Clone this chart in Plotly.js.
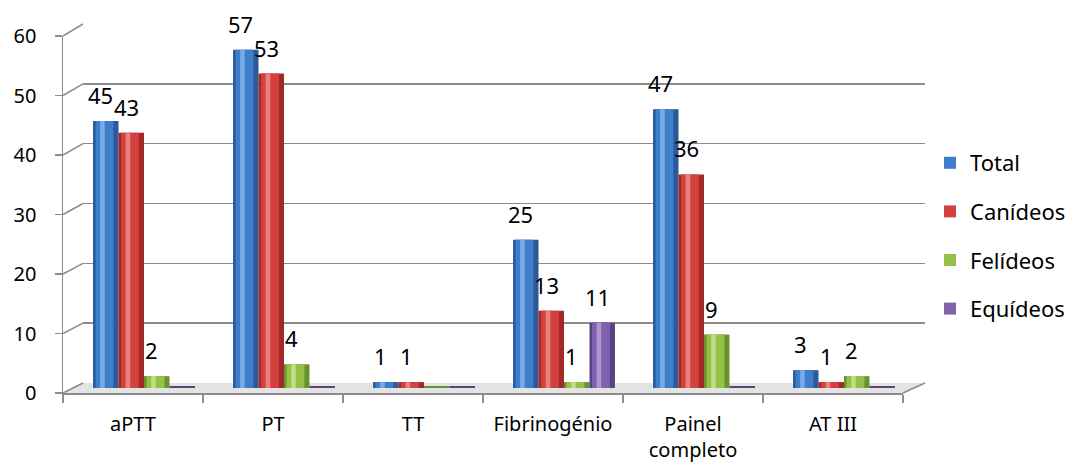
<!DOCTYPE html>
<html><head><meta charset="utf-8">
<script src="https://cdn.plot.ly/plotly-3.0.1.min.js"></script>
<style>html,body{margin:0;padding:0;background:#fff}#chart{width:1073px;height:464px}</style>
</head><body><div id="chart"></div>
<script>
const categories = ['aPTT', 'PT', 'TT', 'Fibrinogénio', 'Painel completo', 'AT III'];
const tickLabels = ['aPTT', 'PT', 'TT', 'Fibrinogénio', 'Painel<br>completo', 'AT III'];
const seriesNames = ['Total', 'Canídeos', 'Felídeos', 'Equídeos'];
const total = [45, 57, 1, 25, 47, 3];
const canideos = [43, 53, 1, 13, 36, 1];
const felideos = [2, 4, 0, 1, 9, 2];
const equideos = [0, 0, 0, 11, 0, 0];
const yTicks = [0, 10, 20, 30, 40, 50, 60];

const seriesValues = [total, canideos, felideos, equideos];
const palette = [
  {edge: '#2b5a99', mid: '#3e7dca', hi: '#82b1ea'},
  {edge: '#a12a28', mid: '#d3413e', hi: '#ec8c89'},
  {edge: '#6b932d', mid: '#94c147', hi: '#c9e392'},
  {edge: '#5a4184', mid: '#7f61ae', hi: '#b3a0d6'}
];

const W = 1073, H = 464;
const px = x => x / W;
const py = y => 1 - y / H;
const FONT = '"Noto Sans", "Open Sans", sans-serif';
const GRID = '#8c8c8c';

const BW = 0.182;           // bar width (category units)
const CAT_PX = 140;         // pixels per category on bar axis
const yMax = yTicks[yTicks.length - 1];

const traces = [];
// invisible anchors so the wall / front axes are drawn
traces.push({type: 'scatter', mode: 'markers', x: [0, 1], y: [0, yMax], xaxis: 'x', yaxis: 'y',
  marker: {opacity: 0}, showlegend: false, hoverinfo: 'skip'});
traces.push({type: 'scatter', mode: 'markers', x: [0, categories.length - 1], y: [0, yMax], xaxis: 'x2', yaxis: 'y2',
  marker: {opacity: 0}, showlegend: false, hoverinfo: 'skip'});

const annotations = [];
seriesValues.forEach((vals, i) => {
  const off = -2 * BW + i * BW;
  const c = palette[i];
  traces.push({
    type: 'bar', x: categories, y: vals, xaxis: 'x3', yaxis: 'y3',
    width: BW, offset: off, name: seriesNames[i], legendgroup: seriesNames[i],
    showlegend: false, hoverinfo: 'skip',
    marker: {color: c.edge, line: {color: c.edge, width: vals.map(v => v === 0 ? 4 : 0)}}
  });
  traces.push({
    type: 'bar', x: categories, y: vals, xaxis: 'x3', yaxis: 'y3',
    width: BW * 0.7, offset: off + BW * 0.1, name: seriesNames[i], legendgroup: seriesNames[i],
    showlegend: true,
    marker: {color: c.mid}
  });
  traces.push({
    type: 'bar', x: categories, y: vals, xaxis: 'x3', yaxis: 'y3',
    width: BW * 0.18, offset: off + BW * 0.28, name: seriesNames[i], legendgroup: seriesNames[i],
    showlegend: false, hoverinfo: 'skip',
    marker: {color: c.hi, opacity: 0.85}
  });
  vals.forEach((v, j) => {
    if (v === 0) return;
    annotations.push({
      xref: 'x3', yref: 'y3', x: categories[j], y: v, text: String(v),
      showarrow: false, xshift: (off + BW / 2) * CAT_PX - 5, yshift: 26,
      font: {family: FONT, size: 22, color: '#000'}
    });
  });
});

// geometry (pixels)
const FRONT = {x0: 63, x1: 903, yTop: 36, y0: 393};
const BACK = {x0: 83, x1: 925, yTop: 24, y0: 383};

const shapes = [];
// floor
shapes.push({
  type: 'path', xref: 'paper', yref: 'paper', layer: 'below',
  path: `M${px(FRONT.x0)},${py(FRONT.y0)} L${px(FRONT.x1)},${py(FRONT.y0)} L${px(BACK.x1)},${py(BACK.y0)} L${px(BACK.x0)},${py(BACK.y0)} Z`,
  fillcolor: '#e3e3e3', line: {width: 0}
});
shapes.push({
  type: 'line', xref: 'paper', yref: 'paper', layer: 'below',
  x0: px(FRONT.x1), y0: py(FRONT.y0), x1: px(BACK.x1), y1: py(BACK.y0),
  line: {color: GRID, width: 1.5}
});
// connectors from front axis to back wall
yTicks.forEach(v => {
  const yf = FRONT.y0 - (FRONT.y0 - FRONT.yTop) * v / yMax;
  const yb = BACK.y0 - (BACK.y0 - BACK.yTop) * v / yMax;
  shapes.push({
    type: 'line', xref: 'paper', yref: 'paper', layer: 'below',
    x0: px(FRONT.x0), y0: py(yf), x1: px(BACK.x0), y1: py(yb),
    line: {color: GRID, width: 1.5}
  });
});

const boundaries = categories.map((_, i) => i - 0.5).concat([categories.length - 0.5]);

const layout = {
  width: W, height: H,
  margin: {l: 0, r: 0, t: 0, b: 0},
  paper_bgcolor: '#fff', plot_bgcolor: 'rgba(0,0,0,0)',
  font: {family: FONT, size: 20, color: '#000'},
  barmode: 'overlay',
  showlegend: true,
  legend: {
    x: px(930), xanchor: 'left', y: py(236), yanchor: 'middle',
    font: {family: FONT, size: 22, color: '#000'},
    traceorder: 'grouped', tracegroupgap: 17, bgcolor: 'rgba(0,0,0,0)'
  },
  // back-wall gridlines
  xaxis: {domain: [px(BACK.x0), px(BACK.x1)], range: [0, 1], showgrid: false, zeroline: false,
          showline: false, showticklabels: false, ticks: '', fixedrange: true, anchor: 'y'},
  yaxis: {domain: [py(BACK.y0), py(BACK.yTop)], range: [0, yMax], tickmode: 'array', tickvals: yTicks,
          showgrid: true, gridcolor: GRID, gridwidth: 1.5, zeroline: false, showline: false,
          showticklabels: false, ticks: '', anchor: 'x', fixedrange: true},
  // front axes with labels
  xaxis2: {domain: [px(FRONT.x0), px(FRONT.x1)], range: [-0.5, categories.length - 0.5],
           tickmode: 'array', tickvals: categories.map((_, i) => i), ticktext: tickLabels,
           ticks: '', showgrid: false, zeroline: false, showline: true, linecolor: GRID, linewidth: 1.5,
           anchor: 'y2', ticklabelstandoff: 12,
           minor: {tickmode: 'array', tickvals: boundaries, ticks: 'outside', ticklen: 8, tickcolor: GRID, tickwidth: 1.5},
           tickfont: {family: FONT, size: 20, color: '#000'}, fixedrange: true},
  yaxis2: {domain: [py(FRONT.y0), py(FRONT.yTop)], range: [0, yMax], tickmode: 'array', tickvals: yTicks,
           showgrid: false, zeroline: false, showline: true, linecolor: GRID, linewidth: 1.5,
           ticks: 'outside', ticklen: 7, tickcolor: GRID, tickwidth: 1.5, ticklabelstandoff: 14,
           anchor: 'x2', tickfont: {family: FONT, size: 20, color: '#000'}, fixedrange: true},
  // bars
  xaxis3: {domain: [px(74), px(914)], type: 'category', categoryorder: 'array', categoryarray: categories,
           range: [-0.5, categories.length - 0.5], showgrid: false, zeroline: false, showline: false,
           showticklabels: false, ticks: '', anchor: 'y3', fixedrange: true},
  yaxis3: {domain: [py(388), py(32)], range: [0, yMax], showgrid: false, zeroline: false, showline: false,
           showticklabels: false, ticks: '', anchor: 'x3', fixedrange: true},
  shapes: shapes,
  annotations: annotations
};

Plotly.newPlot('chart', traces, layout, {staticPlot: true});
</script>
</body></html>
